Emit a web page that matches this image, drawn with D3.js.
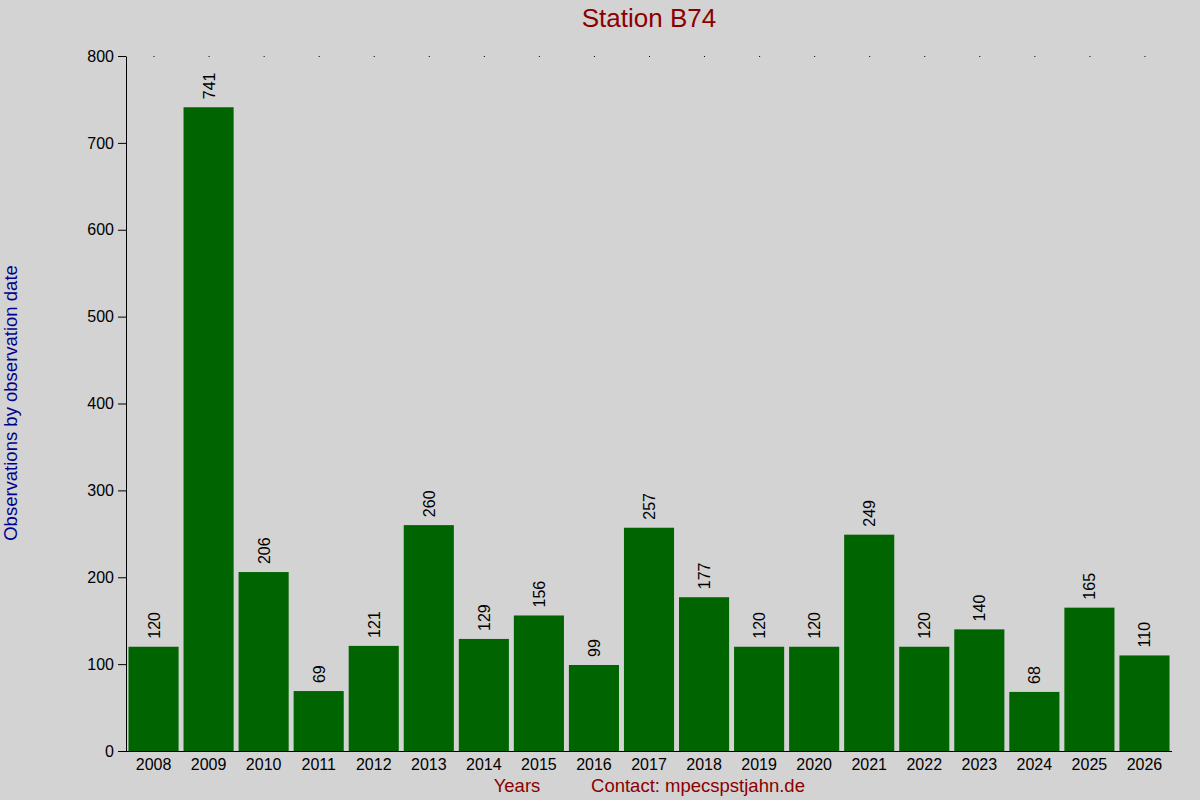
<!DOCTYPE html>
<html>
<head>
<meta charset="utf-8">
<script src="https://cdn.jsdelivr.net/npm/d3@7"></script>
<style>
  body { margin: 0; background: #d3d3d3; }
  svg { font-family: "Liberation Sans", Arial, sans-serif; }
</style>
</head>
<body>
<div id="chart"></div>
<script>
var years = ["2008","2009","2010","2011","2012","2013","2014","2015","2016","2017",
             "2018","2019","2020","2021","2022","2023","2024","2025","2026"];
var counts = [120, 741, 206, 69, 121, 260, 129, 156, 99, 257,
              177, 120, 120, 249, 120, 140, 68, 165, 110];
var yTicks = [0, 100, 200, 300, 400, 500, 600, 700, 800];

var width = 1200, height = 800;
var margin = {top: 56, right: 28, bottom: 49, left: 126};

var svg = d3.select("#chart").append("svg")
    .attr("width", width)
    .attr("height", height);

svg.append("rect")
    .attr("width", width)
    .attr("height", height)
    .attr("fill", "#d3d3d3");

var x = d3.scaleBand()
    .domain(years)
    .range([margin.left, width - margin.right])
    .paddingInner(0.09)
    .paddingOuter(0.045);

var y = d3.scaleLinear()
    .domain([0, 800])
    .range([height - margin.bottom, margin.top]);

// bars
svg.selectAll(".bar")
    .data(counts)
    .enter().append("rect")
    .attr("class", "bar")
    .attr("x", function(d, i) { return x(years[i]); })
    .attr("y", function(d) { return y(d); })
    .attr("width", x.bandwidth())
    .attr("height", function(d) { return y(0) - y(d); })
    .attr("fill", "#006400");

// value labels (rotated)
svg.selectAll(".val")
    .data(counts)
    .enter().append("text")
    .attr("class", "val")
    .attr("transform", function(d, i) {
        return "translate(" + (x(years[i]) + x.bandwidth() / 2 + 6) + "," + (y(d) - 8) + ") rotate(-90)";
    })
    .attr("text-anchor", "start")
    .style("font-size", "16px")
    .style("fill", "#000")
    .text(function(d) { return d; });

// little dots along the top
svg.selectAll(".dot")
    .data(years)
    .enter().append("rect")
    .attr("class", "dot")
    .attr("x", function(d) { return x(d) + x.bandwidth() / 2; })
    .attr("y", y(800))
    .attr("width", 1)
    .attr("height", 1)
    .attr("fill", "#000");

// y axis
var yAxis = d3.axisLeft(y)
    .tickValues(yTicks)
    .tickSizeInner(8)
    .tickSizeOuter(0);

var gy = svg.append("g")
    .attr("transform", "translate(" + margin.left + ",0)")
    .call(yAxis);
gy.select(".domain").attr("stroke", "#000");
gy.selectAll(".tick line").attr("stroke", "#000");
gy.selectAll(".tick text")
    .style("font-size", "16px")
    .style("font-family", "Liberation Sans, Arial, sans-serif")
    .attr("x", -12)
    .attr("fill", "#000");

// x axis
var xAxis = d3.axisBottom(x).tickSize(0);
var gx = svg.append("g")
    .attr("transform", "translate(0," + y(0) + ")")
    .call(xAxis);
gx.select(".domain").remove();
gx.selectAll(".tick text")
    .style("font-size", "16px")
    .style("font-family", "Liberation Sans, Arial, sans-serif")
    .attr("dy", "1.0em")
    .attr("fill", "#000");

svg.append("line")
    .attr("x1", margin.left - 8)
    .attr("x2", width - margin.right)
    .attr("y1", y(0) + 0.5)
    .attr("y2", y(0) + 0.5)
    .attr("stroke", "#000");

// title
svg.append("text")
    .attr("x", 649)
    .attr("y", 27)
    .attr("text-anchor", "middle")
    .style("font-size", "26px")
    .style("fill", "#8b0000")
    .text("Station B74");

// y label
svg.append("text")
    .attr("transform", "translate(17," + 403 + ") rotate(-90)")
    .attr("text-anchor", "middle")
    .style("font-size", "18.5px")
    .style("fill", "#00008b")
    .text("Observations by observation date");

// bottom labels
svg.append("text")
    .attr("x", 517)
    .attr("y", 792)
    .attr("text-anchor", "middle")
    .style("font-size", "18.5px")
    .style("fill", "#8b0000")
    .text("Years");

svg.append("text")
    .attr("x", 698)
    .attr("y", 792)
    .attr("text-anchor", "middle")
    .style("font-size", "18.5px")
    .style("fill", "#8b0000")
    .text("Contact: mpecspstjahn.de");
</script>
</body>
</html>
